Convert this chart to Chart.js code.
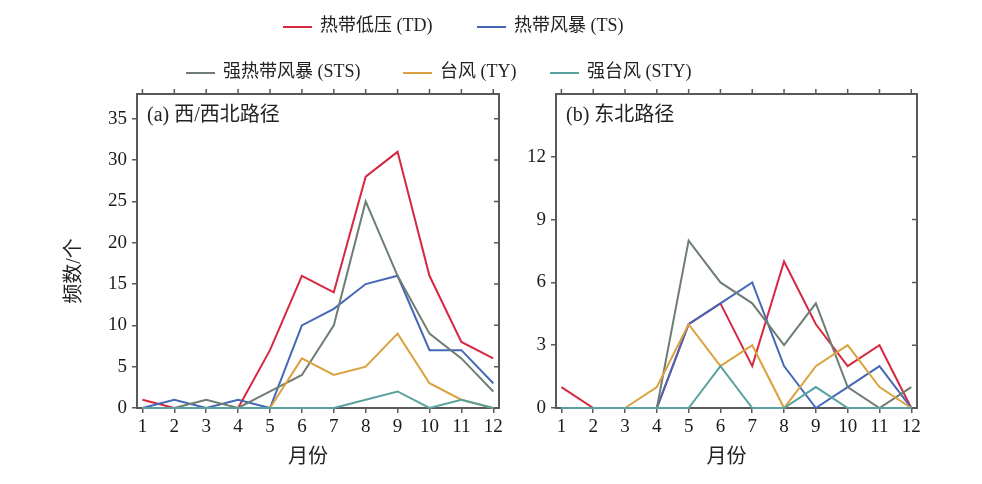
<!DOCTYPE html>
<html>
<head>
<meta charset="utf-8">
<script src="https://cdn.jsdelivr.net/npm/chart.js@4.4.1/dist/chart.umd.min.js"></script>
<style>
  body { margin: 0; background: #fff; }
  #wrap { position: relative; width: 982px; height: 484px; overflow: hidden; }
  canvas { position: absolute; top: 0; }
  .leg { position: absolute; height: 24px; line-height: 24px; white-space: nowrap;
         font: 18px "Liberation Serif", "Noto Sans CJK SC", serif; color: #222; }
  .leg i { display: inline-block; width: 29px; height: 2px; vertical-align: middle; margin-right: 8px; }
</style>
</head>
<body>
<div id="wrap">
  <canvas id="chartA" width="520" height="484" style="left:0;width:520px;height:484px"></canvas>
  <canvas id="chartB" width="462" height="484" style="left:520px;width:462px;height:484px"></canvas>
</div>
<script>
var months = [1, 2, 3, 4, 5, 6, 7, 8, 9, 10, 11, 12];
var seriesNames = ["热带低压 (TD)", "热带风暴 (TS)", "强热带风暴 (STS)", "台风 (TY)", "强台风 (STY)"];
var seriesColors = ["#d6283f", "#4467b8", "#6e7e72", "#daa23e", "#5aa29f"];

// (a) west / northwest track
var westTD = [1, 0, 0, 0, 7, 16, 14, 28, 31, 16, 8, 6];
var westTS = [0, 1, 0, 1, 0, 10, 12, 15, 16, 7, 7, 3];
var westSTS = [0, 0, 1, 0, 2, 4, 10, 25, 16, 9, 6, 2];
var westTY = [0, 0, 0, 0, 0, 6, 4, 5, 9, 3, 1, 0];
var westSTY = [0, 0, 0, 0, 0, 0, 0, 1, 2, 0, 1, 0];

// (b) northeast track
var eastTD = [1, 0, 0, 0, 4, 5, 2, 7, 4, 2, 3, 0];
var eastTS = [0, 0, 0, 0, 4, 5, 6, 2, 0, 1, 2, 0];
var eastSTS = [0, 0, 0, 0, 8, 6, 5, 3, 5, 1, 0, 1];
var eastTY = [0, 0, 0, 1, 4, 2, 3, 0, 2, 3, 1, 0];
var eastSTY = [0, 0, 0, 0, 0, 2, 0, 0, 1, 0, 0, 0];

var yTicksA = [0, 5, 10, 15, 20, 25, 30, 35];
var yTicksB = [0, 3, 6, 9, 12];

var axisColor = "#595959";
var serif = '"Liberation Serif", "Noto Sans CJK SC", serif';

// legend (two rows, spans both panels)
var legendSpots = [[283, 10], [477, 10], [186, 56], [403, 56], [550, 56]];
seriesNames.forEach(function (name, i) {
  var d = document.createElement("div");
  d.className = "leg";
  d.style.left = legendSpots[i][0] + "px";
  d.style.top = legendSpots[i][1] + "px";
  d.innerHTML = '<i style="background:' + seriesColors[i] + '"></i>' + name;
  document.getElementById("wrap").appendChild(d);
});

function makeSets(lists) {
  return lists.map(function (vals, i) {
    return {
      label: seriesNames[i],
      data: months.map(function (m, k) { return { x: m, y: vals[k] }; }),
      borderColor: seriesColors[i],
      backgroundColor: seriesColors[i],
      borderWidth: 2,
      pointRadius: 0,
      tension: 0,
      clip: false,
      order: lists.length - i
    };
  });
}

// box round the plot, mirrored ticks on top / right, panel label
var framePlugin = {
  id: "frame",
  beforeDatasetsDraw: function (chart) {
    var ctx = chart.ctx, a = chart.chartArea;
    var xs = chart.scales.x, ys = chart.scales.y;
    ctx.save();
    ctx.strokeStyle = axisColor;
    ctx.lineWidth = 2;
    ctx.strokeRect(a.left, a.top, a.right - a.left, a.bottom - a.top);
    ctx.lineWidth = 1.5;
    ctx.beginPath();
    xs.ticks.forEach(function (t) {
      var px = xs.getPixelForValue(t.value);
      ctx.moveTo(px, a.top);
      ctx.lineTo(px, a.top - 5);
    });
    ys.ticks.forEach(function (t) {
      var py = ys.getPixelForValue(t.value);
      ctx.moveTo(a.right, py);
      ctx.lineTo(a.right - 5, py);
    });
    ctx.stroke();
    ctx.restore();
  },
  afterDraw: function (chart, args, opts) {
    var ctx = chart.ctx, a = chart.chartArea;
    ctx.save();
    ctx.fillStyle = "#222";
    ctx.font = "20px " + serif;
    ctx.textBaseline = "middle";
    ctx.fillText(opts.text, a.left + 10, a.top + 22);
    ctx.restore();
  }
};

function makeChart(id, lists, opt) {
  return new Chart(document.getElementById(id), {
    type: "line",
    data: { datasets: makeSets(lists) },
    plugins: [framePlugin],
    options: {
      responsive: false,
      animation: false,
      layout: { padding: { top: 94, right: opt.padRight, bottom: 0, left: 0 } },
      plugins: {
        legend: { display: false },
        tooltip: { enabled: false },
        frame: { text: opt.panel }
      },
      scales: {
        x: {
          type: "linear",
          min: 0.83,
          max: 12.18,
          afterFit: function (s) { s.height = 76; },
          afterBuildTicks: function (s) {
            s.ticks = months.map(function (m) { return { value: m }; });
          },
          ticks: { color: "#1a1a1a", padding: 3, font: { family: serif, size: 19 } },
          grid: { display: true, drawOnChartArea: false, drawTicks: true, tickLength: 5, color: axisColor, lineWidth: 1.5 },
          border: { display: true, color: axisColor, width: 2 },
          title: {
            display: true,
            text: "月份\u3000",
            color: "#222",
            font: { family: serif, size: 20 },
            padding: { top: 0, bottom: 14 }
          }
        },
        y: {
          min: 0,
          max: opt.yMax,
          afterFit: function (s) { s.width = opt.yWidth; },
          afterBuildTicks: function (s) {
            s.ticks = opt.yTicks.map(function (v) { return { value: v }; });
          },
          ticks: { color: "#1a1a1a", padding: 5, font: { family: serif, size: 19 } },
          grid: { display: true, drawOnChartArea: false, drawTicks: true, tickLength: 5, color: axisColor, lineWidth: 1.5 },
          border: { display: true, color: axisColor, width: 2 },
          title: {
            display: opt.yTitle,
            text: "频数/个\u3000\u3000",
            color: "#222",
            font: { family: serif, size: 20 },
            padding: { top: 63, bottom: 0 }
          }
        }
      }
    }
  });
}

makeChart("chartA", [westTD, westTS, westSTS, westTY, westSTY], {
  panel: "(a) 西/西北路径", yMax: 38, yTicks: yTicksA, yWidth: 137, padRight: 21, yTitle: true
});
makeChart("chartB", [eastTD, eastTS, eastSTS, eastTY, eastSTY], {
  panel: "(b) 东北路径", yMax: 15, yTicks: yTicksB, yWidth: 36, padRight: 65, yTitle: false
});
</script>
</body>
</html>
